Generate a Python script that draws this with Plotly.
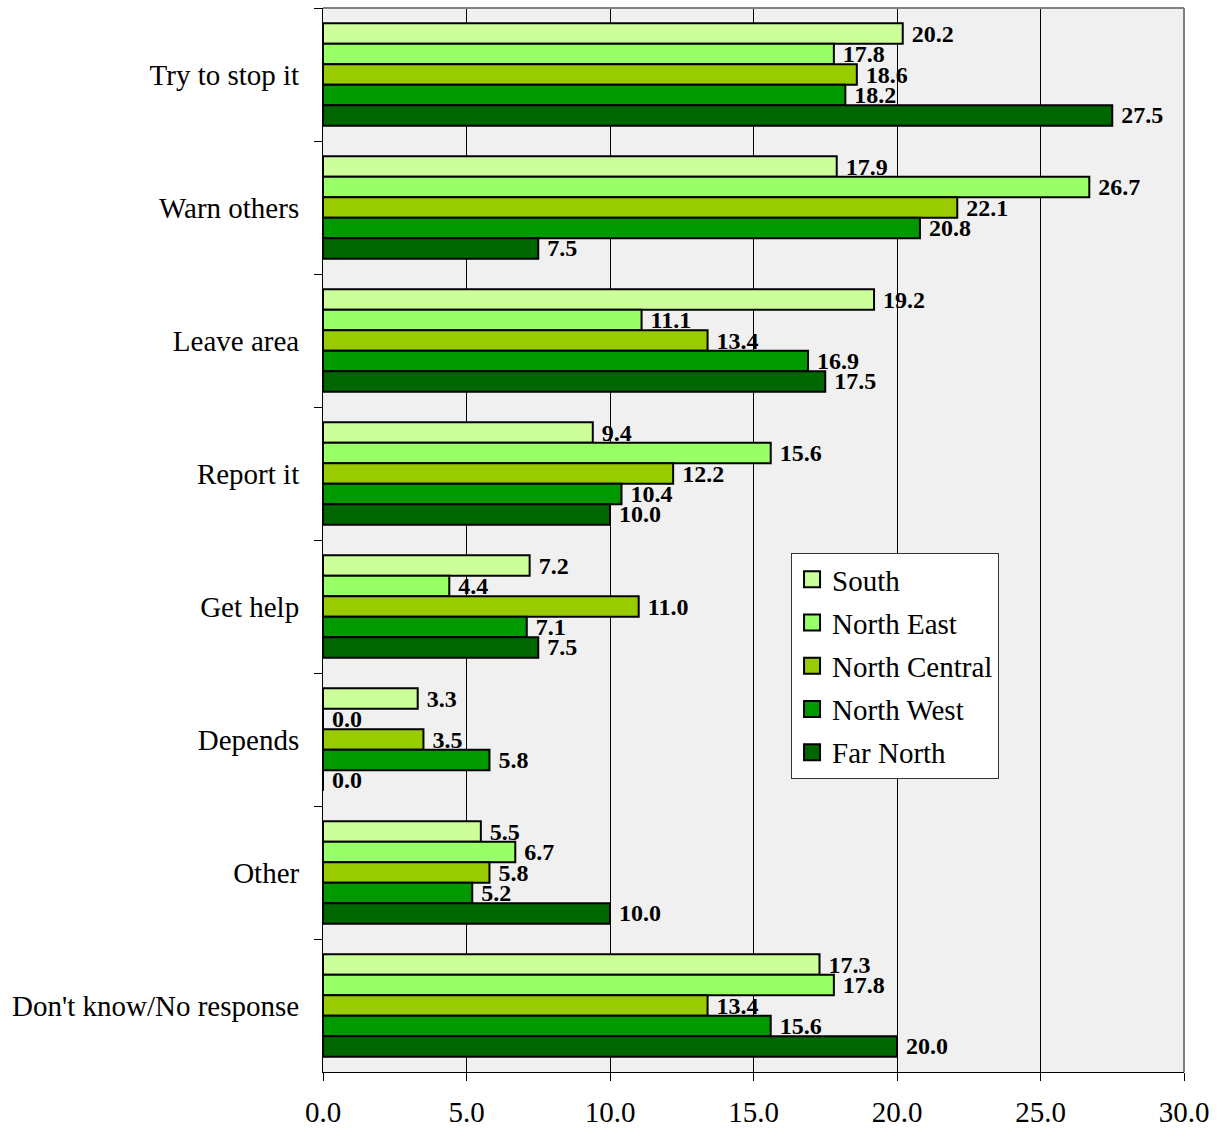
import plotly.graph_objects as go

# Responses by region (percent)
categories = ["Try to stop it", "Warn others", "Leave area", "Report it",
              "Get help", "Depends", "Other", "Don't know/No response"]

south = [20.2, 17.9, 19.2, 9.4, 7.2, 3.3, 5.5, 17.3]
north_east = [17.8, 26.7, 11.1, 15.6, 4.4, 0.0, 6.7, 17.8]
north_central = [18.6, 22.1, 13.4, 12.2, 11.0, 3.5, 5.8, 13.4]
north_west = [18.2, 20.8, 16.9, 10.4, 7.1, 5.8, 5.2, 15.6]
far_north = [27.5, 7.5, 17.5, 10.0, 7.5, 0.0, 10.0, 20.0]

series = [
    ("South", south, "#CCFF99"),
    ("North East", north_east, "#99FF66"),
    ("North Central", north_central, "#99CC00"),
    ("North West", north_west, "#009900"),
    ("Far North", far_north, "#006600"),
]

x_ticks = [0, 5, 10, 15, 20, 25, 30]

FONT = "Liberation Serif, Times New Roman, serif"

fig = go.Figure()
for name, vals, color in series:
    fig.add_trace(go.Bar(
        name=name,
        y=categories,
        x=vals,
        orientation="h",
        showlegend=False,
        marker=dict(color=color, line=dict(color="black", width=2)),
        text=[f"\u00a0{v:.1f}" for v in vals],
        textposition="outside",
        textfont=dict(family=FONT, size=24, color="black", weight="bold"),
        constraintext="none",
        cliponaxis=False,
    ))

# Legend entries drawn as larger outlined squares
for name, vals, color in series:
    fig.add_trace(go.Scatter(
        name=name,
        x=[None], y=[None],
        mode="markers",
        legendgroup=name,
        marker=dict(symbol="square", size=16, color=color,
                    line=dict(color="black", width=2)),
        hoverinfo="skip",
    ))

fig.update_layout(
    width=1221,
    height=1129,
    margin=dict(l=323, r=37, t=8, b=57),
    paper_bgcolor="white",
    plot_bgcolor="#f0f0f0",
    barmode="group",
    bargap=0.23,
    bargroupgap=0,
    font=dict(family=FONT, size=29, color="black"),
    showlegend=True,
    legend=dict(
        x=0.5436, y=0.4878, xanchor="left", yanchor="top",
        bgcolor="white", bordercolor="#333333", borderwidth=1,
        font=dict(family=FONT, size=29, color="black"),
        traceorder="grouped", tracegroupgap=2.5,
        itemwidth=30,
    ),
    xaxis=dict(
        range=[0, 30],
        tickvals=x_ticks,
        tickformat=".1f",
        automargin=False,
        showgrid=True, gridcolor="black", gridwidth=1,
        showline=True, linecolor="black", linewidth=1,
        ticks="outside", ticklen=8, tickcolor="black",
        ticklabelstandoff=6,
        zeroline=False,
        tickfont=dict(family=FONT, size=29),
    ),
    yaxis=dict(
        autorange="reversed",
        automargin=False,
        showgrid=False,
        showline=True, linecolor="black", linewidth=1,
        ticks="outside", ticklen=8, tickcolor="black",
        tickson="boundaries",
        ticklabelstandoff=17,
        tickfont=dict(family=FONT, size=29),
    ),
    shapes=[
        dict(type="line", xref="paper", yref="paper", x0=0, x1=1, y0=1, y1=1,
             line=dict(color="#808080", width=2)),
        dict(type="line", xref="paper", yref="paper", x0=1, x1=1, y0=0, y1=1,
             line=dict(color="#808080", width=2)),
    ],
)

fig.write_html("out.html")
